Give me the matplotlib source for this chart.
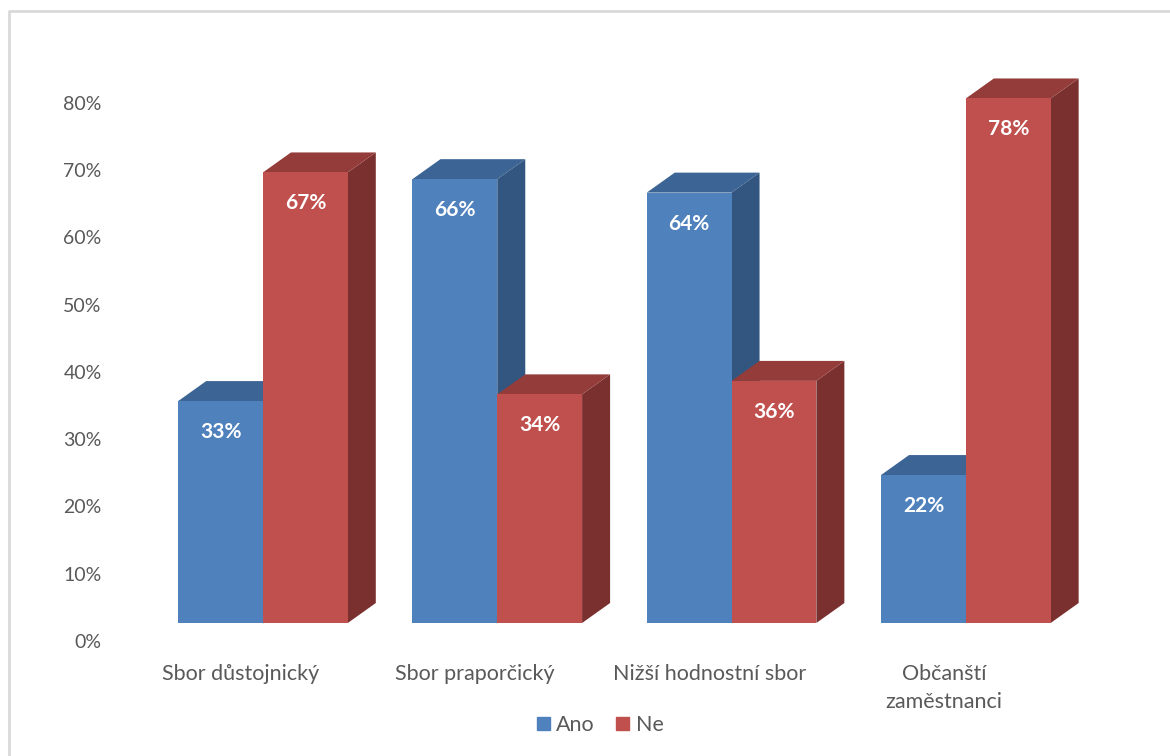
import matplotlib.pyplot as plt
from matplotlib.patches import Polygon, Rectangle
from matplotlib.lines import Line2D
from matplotlib.transforms import ScaledTranslation

plt.rcParams['font.family'] = ['Lato', 'DejaVu Sans']

categories = ["Sbor důstojnický", "Sbor praporčický", "Nižší hodnostní sbor", "Občanští\nzaměstnanci"]
ano = [0.33, 0.66, 0.64, 0.22]
ne = [0.67, 0.34, 0.36, 0.78]
yticks = [0, 0.1, 0.2, 0.3, 0.4, 0.5, 0.6, 0.7, 0.8]

front = {"Ano": "#4F81BD", "Ne": "#C0504D"}
top = {"Ano": "#3C6494", "Ne": "#943C3A"}
side = {"Ano": "#335681", "Ne": "#7A302E"}

W, H = 1170, 756
fig = plt.figure(figsize=(W / 100, H / 100), dpi=100)
# chart frame: only the left and top edges fall inside the picture
fig.lines.append(Line2D([8.5 / W, 8.5 / W, 1.0], [0.0, 1 - 11 / H, 1 - 11 / H],
                        transform=fig.transFigure, color="#D9D9D9", linewidth=2))

# axes spans pixel rows 40..640, 0% of the front faces sits at row 623
ax = fig.add_axes([110 / W, 116 / H, 1010 / W, 600 / H])
ax.set_xlim(-0.653, 3.658)
ax.set_ylim(-0.0253, 0.8669)
for s in ax.spines.values():
    s.set_visible(False)

bw = 0.362
dx, dy = 0.1195, 0.0297


def draw_bar(x0, v, name):
    x1 = x0 + bw
    ax.add_patch(Polygon([(x1, 0), (x1, v), (x1 + dx, v + dy), (x1 + dx, dy)],
                         closed=True, facecolor=side[name], edgecolor="none", zorder=2))
    ax.add_patch(Polygon([(x0, v), (x1, v), (x1 + dx, v + dy), (x0 + dx, v + dy)],
                         closed=True, facecolor=top[name], edgecolor="none", zorder=2))
    ax.bar(x0, v, width=bw, align="edge", color=front[name], edgecolor="none", zorder=3)
    ax.annotate(f"{round(v * 100)}%", (x0 + bw / 2, v), xytext=(0, -31), textcoords="offset pixels",
                ha="center", va="center", color="white", fontsize=15, fontweight="bold", zorder=4)


for i in range(len(categories)):
    draw_bar(i - bw, ano[i], "Ano")
    draw_bar(i, ne[i], "Ne")

ax.set_yticks(yticks)
ax.set_yticklabels([f"{round(t * 100)}%" for t in yticks])
ax.tick_params(axis="y", length=0, pad=6, labelsize=14, labelcolor="#595959")
off = ScaledTranslation(0, -18 / 100, fig.dpi_scale_trans)
for lab in ax.get_yticklabels():
    lab.set_transform(lab.get_transform() + off)

ax.set_xticks([i - 0.094 for i in range(len(categories))])
ax.set_xticklabels(categories, linespacing=1.55)
ax.tick_params(axis="x", length=0, pad=17, labelsize=15.5, labelcolor="#595959")
for lab in ax.get_xticklabels():
    lab.set_verticalalignment("top")

handles = [Rectangle((0, 0), 1, 1, color=front["Ano"]), Rectangle((0, 0), 1, 1, color=front["Ne"])]
fig.legend(handles, ["Ano", "Ne"], loc="center", bbox_to_anchor=(600 / W, 1 - 725 / H), ncol=2,
           frameon=False, fontsize=15.5, labelcolor="#595959", handlelength=0.6, handleheight=0.6,
           handletextpad=0.3, columnspacing=1.0)

fig.savefig("out.png", dpi=100)
